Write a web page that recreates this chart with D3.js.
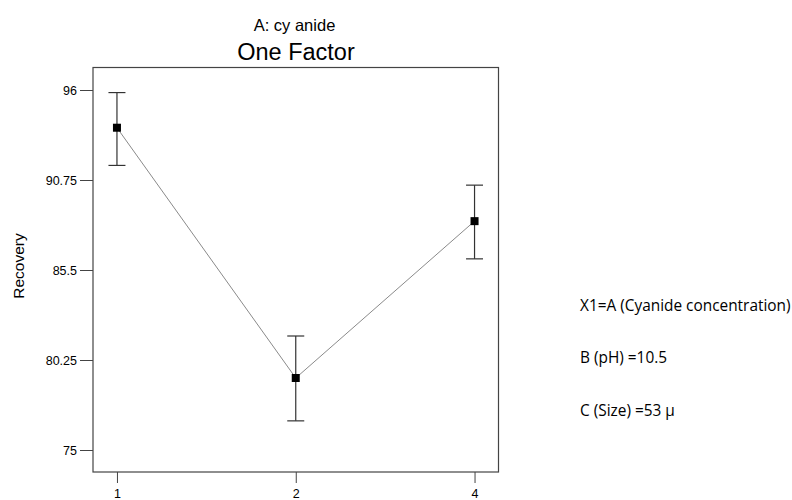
<!DOCTYPE html>
<html>
<head>
<meta charset="utf-8">
<script src="https://cdn.jsdelivr.net/npm/d3@7"></script>
<style>
  body { margin: 0; background: #fff; }
  svg { display: block; }
</style>
</head>
<body>
<svg id="chart" width="792" height="500"></svg>
<script>
// One-factor effect plot: mean recovery per cyanide level with error bars
const levels = ["1", "2", "4"];
const recovery = [93.8, 79.2, 88.35];
const upper = [95.85, 81.65, 90.45];
const lower = [91.6, 76.7, 86.15];
const yTicks = [75, 80.25, 85.5, 90.75, 96];
const notes = ["X1=A (Cyanide concentration)", "B (pH) =10.5", "C (Size) =53 \u03bc"];

const sans = "'Liberation Sans', Arial, Helvetica, sans-serif";
const svg = d3.select("#chart");
const frame = { left: 93, right: 498.5, top: 67.5, bottom: 472 };

const x = d3.scalePoint().domain(levels)
  .range([frame.left, frame.right]).padding(0.134);
const y = d3.scaleLinear().domain([75, 96]).range([450, 90]);

// Plot frame
svg.append("rect")
  .attr("x", frame.left).attr("y", frame.top)
  .attr("width", frame.right - frame.left).attr("height", frame.bottom - frame.top)
  .attr("fill", "none").attr("stroke", "#444").attr("stroke-width", 1.2);

// Y axis
const yAxis = d3.axisLeft(y).tickValues(yTicks).tickSize(13).tickPadding(3)
  .tickFormat(d => String(d));
const gy = svg.append("g").attr("transform", `translate(${frame.left},0)`).call(yAxis);
gy.select(".domain").remove();
gy.selectAll("line").attr("stroke", "#444");
gy.selectAll("text").attr("font-family", sans)
  .attr("font-size", 12.5).attr("fill", "#000");

// X axis
const xAxis = d3.axisBottom(x).tickSize(11).tickPadding(6);
const gx = svg.append("g").attr("transform", `translate(0,${frame.bottom})`).call(xAxis);
gx.select(".domain").remove();
gx.selectAll("line").attr("stroke", "#444");
gx.selectAll("text").attr("font-family", sans)
  .attr("font-size", 12.5).attr("fill", "#000");

// Connecting line through the means
const line = d3.line().x((d, i) => x(levels[i])).y(d => y(d));
svg.append("path").datum(recovery)
  .attr("d", line).attr("fill", "none")
  .attr("stroke", "#8a8a8a").attr("stroke-width", 1);

// Error bars
const cap = 8.5;
const bars = svg.append("g").attr("stroke", "#333").attr("stroke-width", 1.2);
levels.forEach((lv, i) => {
  const cx = x(lv);
  bars.append("line").attr("x1", cx).attr("x2", cx)
    .attr("y1", y(upper[i])).attr("y2", y(lower[i]));
  bars.append("line").attr("x1", cx - cap).attr("x2", cx + cap)
    .attr("y1", y(upper[i])).attr("y2", y(upper[i]));
  bars.append("line").attr("x1", cx - cap).attr("x2", cx + cap)
    .attr("y1", y(lower[i])).attr("y2", y(lower[i]));
});

// Square markers
const m = 8;
svg.append("g").selectAll("rect").data(recovery).join("rect")
  .attr("x", (d, i) => x(levels[i]) - m / 2)
  .attr("y", d => y(d) - m / 2)
  .attr("width", m).attr("height", m)
  .attr("fill", "#000");

// Titles
svg.append("text").attr("x", 294.5).attr("y", 31)
  .attr("text-anchor", "middle")
  .attr("font-family", sans)
  .attr("font-size", 16.5).text("A:  cy anide");
svg.append("text").attr("x", 296).attr("y", 60)
  .attr("text-anchor", "middle")
  .attr("font-family", sans)
  .attr("font-size", 23.5).text("One Factor");

// Y axis title
svg.append("text")
  .attr("transform", "translate(24,266) rotate(-90)")
  .attr("text-anchor", "middle")
  .attr("font-family", sans)
  .attr("font-size", 15.5).text("Recovery");

// Fixed factor settings
const noteY = [311, 363, 416];
svg.append("g").selectAll("text").data(notes).join("text")
  .attr("x", 580).attr("y", (d, i) => noteY[i])
  .attr("font-family", "'Open Sans', 'Noto Sans', sans-serif")
  .attr("font-size", 15.4).attr("fill", "#000")
  .text(d => d);
</script>
</body>
</html>
